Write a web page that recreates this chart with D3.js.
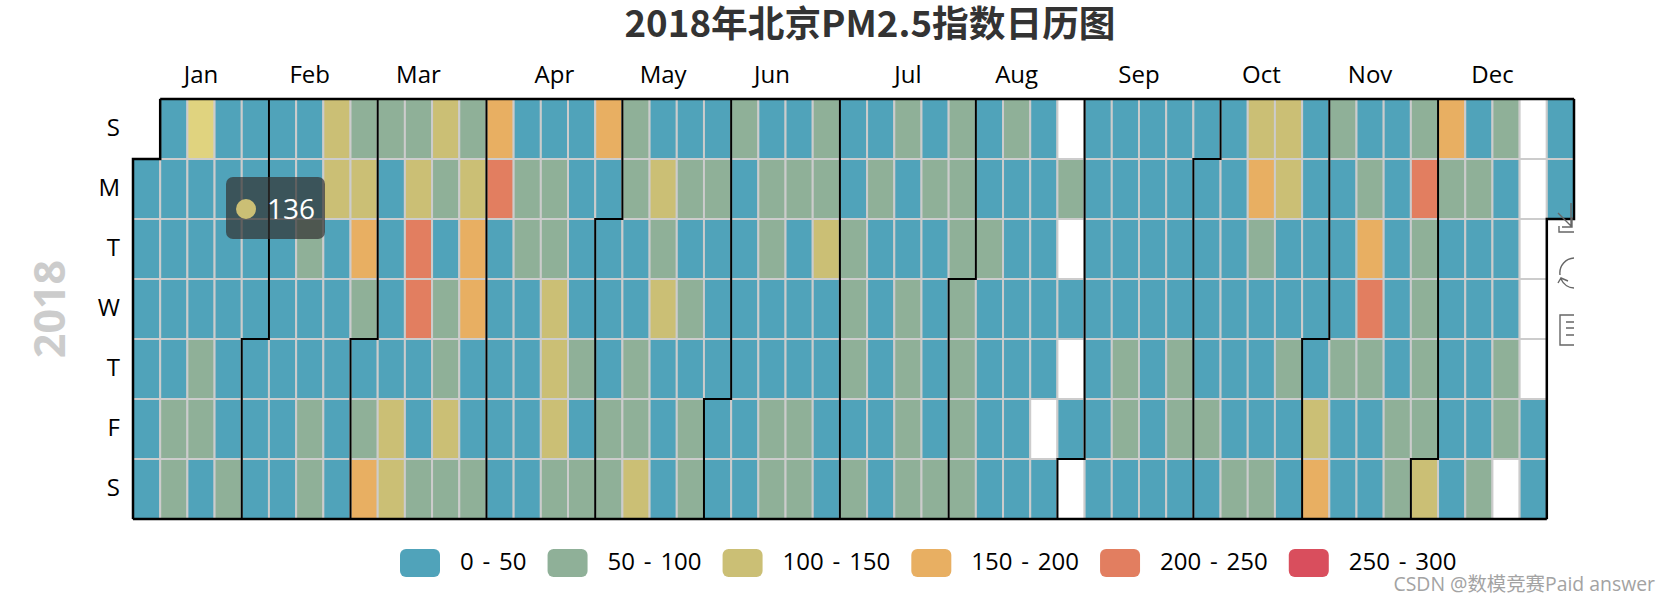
<!DOCTYPE html>
<html>
<head>
<meta charset="utf-8">
<title>2018年北京PM2.5指数日历图</title>
<script src="https://cdn.jsdelivr.net/npm/d3@7"></script>
<style>
  html, body { margin: 0; padding: 0; background: #fff; }
  svg { display: block; }
  text { font-family: "Open Sans", "Noto Sans CJK SC", sans-serif; }
</style>
</head>
<body>
<div id="chart"></div>
<script>
var chartTitle = '2018年北京PM2.5指数日历图';
var year = 2018;
var monthLabels = ['Jan', 'Feb', 'Mar', 'Apr', 'May', 'Jun', 'Jul', 'Aug', 'Sep', 'Oct', 'Nov', 'Dec'];
var dayLabels = ['S', 'M', 'T', 'W', 'T', 'F', 'S'];
var legendLabels = ['0 - 50', '50 - 100', '100 - 150', '150 - 200', '200 - 250', '250 - 300'];
var pieceBreaks = [50, 100, 150, 200, 250];
var pieceColors = ['#50a3ba', '#8fb098', '#cbbf75', '#e8af62', '#e27e60', '#d94e5d'];
var hoveredDay = '2018-01-14';
var hoveredColor = '#e0d37f';

// one list per weekday, one entry per week column
// null = no reading that day (white cell). col 0 of sunday and col 52 from tuesday on are outside 2018
var sunday = [null, 30, 136, 30, 30, 30, 30, 125, 75, 75, 75, 125, 75, 175, 30, 30, 30, 175, 75, 30, 30, 30, 75, 30, 30, 75, 30, 30, 75, 30, 75, 30, 75, 30, null, 30, 30, 30, 30, 30, 30, 125, 125, 30, 75, 30, 30, 75, 175, 30, 75, null, 30];
var monday = [30, 30, 30, 30, 30, 30, 30, 125, 125, 30, 125, 75, 125, 225, 75, 75, 30, 30, 75, 125, 75, 75, 30, 75, 75, 75, 30, 75, 30, 75, 75, 30, 30, 30, 75, 30, 30, 30, 30, 30, 30, 175, 125, 30, 30, 75, 30, 225, 75, 75, 30, null, 30];
var tuesday = [30, 30, 30, 30, 30, 30, 75, 30, 175, 30, 225, 30, 175, 30, 75, 75, 30, 30, 30, 75, 30, 30, 30, 75, 30, 125, 75, 30, 30, 30, 75, 75, 30, 30, null, 30, 30, 30, 30, 30, 30, 75, 30, 30, 30, 175, 30, 75, 30, 30, 30, null, null];
var wednesday = [30, 30, 30, 30, 30, 30, 30, 30, 75, 30, 225, 75, 175, 30, 30, 125, 30, 30, 30, 125, 75, 30, 30, 30, 30, 30, 75, 30, 75, 30, 75, 30, 30, 30, 30, 30, 30, 30, 30, 30, 30, 30, 30, 30, 30, 225, 30, 75, 30, 30, 30, null, null];
var thursday = [30, 30, 75, 30, 30, 30, 30, 30, 30, 30, 30, 75, 30, 30, 30, 125, 75, 30, 75, 30, 30, 30, 30, 30, 30, 30, 75, 30, 75, 30, 75, 30, 30, 30, null, 30, 75, 30, 75, 30, 30, 30, 75, 30, 75, 75, 30, 75, 30, 30, 75, null, null];
var friday = [30, 75, 75, 30, 30, 30, 75, 30, 75, 125, 30, 125, 30, 30, 30, 125, 30, 75, 75, 30, 75, 30, 30, 75, 75, 30, 30, 30, 75, 30, 75, 30, 30, null, 30, 30, 75, 30, 75, 75, 30, 30, 30, 125, 30, 30, 75, 75, 30, 30, 75, 30, null];
var saturday = [30, 75, 30, 75, 30, 30, 75, 30, 175, 125, 75, 75, 75, 30, 30, 75, 75, 75, 125, 30, 75, 30, 30, 75, 75, 30, 75, 30, 75, 75, 75, 30, 30, 30, null, 30, 30, 30, 30, 30, 75, 75, 30, 175, 30, 30, 75, 125, 30, 75, null, 30, null];
var weekdays = [sunday, monday, tuesday, wednesday, thursday, friday, saturday];

var width = 1669;
var height = 603;
var calLeft = 133;
var calRight = 1574;
var calTop = 99;
var calBottom = 519;

var x = d3.scaleLinear().domain([0, 53]).range([calLeft, calRight]);
var y = d3.scaleLinear().domain([0, 7]).range([calTop, calBottom]);
var color = d3.scaleThreshold().domain(pieceBreaks).range(pieceColors);
var dayKey = d3.timeFormat('%Y-%m-%d');

function weekOf(d) {
  return d3.timeWeek.count(d3.timeYear(d), d);
}

var days = d3.timeDays(new Date(year, 0, 1), new Date(year + 1, 0, 1)).map(function(d) {
  var col = weekOf(d);
  var row = d.getDay();
  return { date: d, col: col, row: row, value: weekdays[row][col] };
});

var svg = d3.select('#chart').append('svg')
    .attr('width', width)
    .attr('height', height);

svg.append('text')
    .attr('x', 870)
    .attr('y', 37)
    .attr('text-anchor', 'middle')
    .style('font-family', '"Noto Sans CJK SC", sans-serif')
    .style('font-size', '36.7px')
    .style('font-weight', 700)
    .style('fill', '#333')
    .text(chartTitle);

// day cells
svg.append('g').selectAll('rect')
    .data(days)
  .enter()
    .append('rect')
    .attr('x', function(d) { return x(d.col); })
    .attr('y', function(d) { return y(d.row); })
    .attr('width', x(1) - x(0))
    .attr('height', y(1) - y(0))
    .attr('fill', function(d) {
      if (d.value === null) return '#fff';
      return dayKey(d.date) === hoveredDay ? hoveredColor : color(d.value);
    })
    .attr('stroke', '#ccc')
    .attr('stroke-width', 2);

// month separators, each one steps around the first day of the month
var outline = d3.line()
    .x(function(p) { return x(p[0]); })
    .y(function(p) { return y(p[1]); });

function monthEdge(d) {
  var col = weekOf(d);
  var row = d.getDay();
  if (d.getFullYear() > year) col = weekOf(d3.timeDay.offset(d, -1));
  if (row === 0) return [[col, 0], [col, 7]];
  return [[col + 1, 0], [col + 1, row], [col, row], [col, 7]];
}

var monthStarts = d3.timeMonths(new Date(year, 0, 1), new Date(year + 1, 0, 2));

svg.append('g').selectAll('path')
    .data(monthStarts)
  .enter()
    .append('path')
    .attr('d', function(d) { return outline(monthEdge(d)); })
    .attr('fill', 'none')
    .attr('stroke', '#000')
    .attr('stroke-width', function(d, i) { return i === 0 || i === 12 ? 2.5 : 2; });

var firstEdge = monthEdge(monthStarts[0]);
var lastEdge = monthEdge(monthStarts[12]);

svg.append('path')
    .attr('d', outline([firstEdge[0], lastEdge[0]]))
    .attr('stroke', '#000')
    .attr('stroke-width', 2.5);

svg.append('path')
    .attr('d', outline([firstEdge[3], lastEdge[3]]))
    .attr('stroke', '#000')
    .attr('stroke-width', 2.5);

// month names sit over the middle of the weeks they span
svg.append('g').selectAll('text')
    .data(monthLabels)
  .enter()
    .append('text')
    .attr('x', function(d, i) {
      var first = weekOf(new Date(year, i, 1));
      var last = weekOf(new Date(year, i + 1, 0));
      return x((first + last + 1) / 2);
    })
    .attr('y', 74)
    .attr('dy', '0.36em')
    .attr('text-anchor', 'middle')
    .style('font-size', '24px')
    .style('fill', '#000')
    .text(function(d) { return d; });

svg.append('g').selectAll('text')
    .data(dayLabels)
  .enter()
    .append('text')
    .attr('x', 120)
    .attr('y', function(d, i) { return y(i + 0.5) - 2; })
    .attr('dy', '0.36em')
    .attr('text-anchor', 'end')
    .style('font-size', '24px')
    .style('fill', '#000')
    .text(function(d) { return d; });

svg.append('text')
    .attr('transform', 'translate(50,' + y(3.5) + ') rotate(-90)')
    .attr('dy', '0.36em')
    .attr('text-anchor', 'middle')
    .style('font-size', '43px')
    .style('font-weight', 700)
    .style('fill', '#ccc')
    .text(year);

// legend, laid out left to right from the measured labels
var legendX = 400;
var legend = svg.append('g');

legendLabels.forEach(function(label, i) {
  legend.append('rect')
      .attr('x', legendX)
      .attr('y', 549)
      .attr('width', 40)
      .attr('height', 28)
      .attr('rx', 6)
      .attr('fill', pieceColors[i]);

  var t = legend.append('text')
      .attr('x', legendX + 60)
      .attr('y', 561)
      .attr('dy', '0.36em')
      .style('font-size', '24px')
      .style('word-spacing', '2.6px')
      .style('fill', '#000')
      .text(label);

  legendX += 60 + t.node().getComputedTextLength() + 21;
});

// toolbox icons, cut off at the right edge of the calendar
svg.append('clipPath')
    .attr('id', 'toolbox-clip')
  .append('rect')
    .attr('x', 1540)
    .attr('y', 190)
    .attr('width', calRight - 1540)
    .attr('height', 170);

var toolbox = svg.append('g')
    .attr('clip-path', 'url(#toolbox-clip)')
    .attr('fill', 'none')
    .attr('stroke', '#666')
    .attr('stroke-width', 1.4);

toolbox.append('path').attr('d', 'M1559 226V232H1580M1571 203V227M1558 213L1572 227M1572 217V227H1562');
toolbox.append('path').attr('d', 'M1575 258A15 15 0 0 0 1560 275M1575 288A15 15 0 0 1 1561 279M1558 283L1561 278L1568 281');
toolbox.append('path').attr('d', 'M1580 315H1560V345H1580M1566 322H1580M1566 328H1580M1566 335H1580');

// tooltip left open on the hovered cell
var tooltip = svg.append('g');

tooltip.append('rect')
    .attr('x', 226)
    .attr('y', 177)
    .attr('width', 99)
    .attr('height', 62)
    .attr('rx', 7)
    .attr('fill', 'rgba(50,50,50,0.7)');

tooltip.append('circle')
    .attr('cx', 246)
    .attr('cy', 209)
    .attr('r', 10)
    .attr('fill', color(weekdays[0][2]));

tooltip.append('text')
    .attr('x', 267)
    .attr('y', 209)
    .attr('dy', '0.36em')
    .style('font-size', '28px')
    .style('fill', '#fff')
    .text(weekdays[0][2]);

svg.append('text')
    .attr('x', 1655)
    .attr('y', 584)
    .attr('dy', '0.36em')
    .attr('text-anchor', 'end')
    .style('font-size', '19.4px')
    .style('fill', '#a3a3a3')
    .text('CSDN @数模竞赛Paid answer');
</script>
</body>
</html>
